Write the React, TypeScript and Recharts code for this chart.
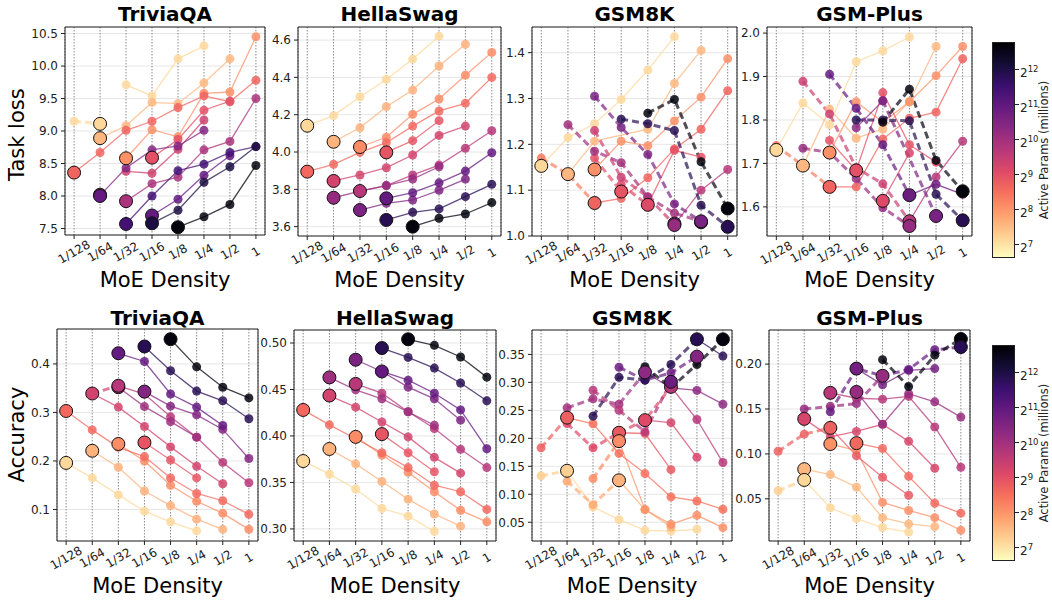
import React from "react";
import { ComposedChart, Line, Scatter, XAxis, YAxis, CartesianGrid, ReferenceArea } from "recharts";

const FONT = "'DejaVu Sans', sans-serif";
const n = null;

const densityLabels = ["1/128", "1/64", "1/32", "1/16", "1/8", "1/4", "1/2", "1"];
const colorbarTicks = [12, 11, 10, 9, 8, 7];

// t = position on the magma colormap (0 = black / most active params, 1 = pale)
// ---- Task loss: TriviaQA
const triviaLossSolid = [
  { t: 0.92, v: [n, n, 9.71, 9.54, 10.11, 10.31, n, n] },
  { t: 0.85, v: [n, 8.89, 9.08, 9.44, 9.42, 9.74, 10.11, n] },
  { t: 0.77, v: [n, n, 8.58, 9.02, 8.91, 9.58, 9.6, 10.45] },
  { t: 0.67, v: [8.36, 8.67, 9.01, 9.15, 9.36, 9.54, 9.45, 9.78] },
  { t: 0.62, v: [n, n, n, 8.59, 8.87, 9.32, 9.46, n] },
  { t: 0.56, v: [n, n, 8.38, 8.35, 8.72, 9.17, n, n] },
  { t: 0.47, v: [n, n, 7.92, 8.19, 8.29, 8.71, 8.84, 9.5] },
  { t: 0.38, v: [n, 8.01, 8.43, 8.71, 8.77, 9.01, n, n] },
  { t: 0.3, v: [n, n, n, 7.7, 7.95, 8.32, 8.62, n] },
  { t: 0.22, v: [n, n, 7.57, 8.0, 8.39, 8.49, 8.67, 8.76] },
  { t: 0.12, v: [n, n, n, 7.58, 7.78, 8.21, 8.45, 8.76] },
  { t: 0.02, v: [n, n, n, n, 7.52, 7.68, 7.87, 8.47] },
];
const triviaLossDashed = [{ t: 0.92, v: [9.15, 9.11, n, n, n, n, n, n] }];
const triviaLossBest = [
  { t: 0.92, x: 1, y: 9.11 }, { t: 0.85, x: 1, y: 8.89 }, { t: 0.77, x: 2, y: 8.58 },
  { t: 0.67, x: 0, y: 8.36 }, { t: 0.62, x: 3, y: 8.59 }, { t: 0.45, x: 1, y: 8.02 },
  { t: 0.3, x: 1, y: 8.0 }, { t: 0.47, x: 2, y: 7.92 }, { t: 0.3, x: 3, y: 7.7 },
  { t: 0.22, x: 2, y: 7.57 }, { t: 0.12, x: 3, y: 7.58 }, { t: 0.02, x: 4, y: 7.52 },
];

// ---- Task loss: HellaSwag
const hellaLossSolid = [
  { t: 0.92, v: [4.141, 4.195, 4.296, 4.389, 4.498, 4.621, n, n] },
  { t: 0.84, v: [n, 4.055, 4.13, 4.243, 4.332, 4.461, 4.577, n] },
  { t: 0.76, v: [n, n, 4.027, 4.079, 4.202, 4.284, 4.412, 4.534] },
  { t: 0.68, v: [3.895, 3.934, 3.998, 4.05, 4.139, 4.22, 4.261, 4.4] },
  { t: 0.63, v: [n, n, n, 3.998, 4.061, 4.168, n, n] },
  { t: 0.57, v: [n, 3.845, 3.877, 3.916, 3.984, 4.089, 4.139, n] },
  { t: 0.5, v: [n, n, 3.791, 3.82, 3.877, 3.93, 4.02, 4.114] },
  { t: 0.42, v: [n, 3.755, 3.791, 3.82, 3.855, 3.921, n, n] },
  { t: 0.36, v: [n, n, 3.689, 3.725, 3.743, 3.795, 3.855, n] },
  { t: 0.3, v: [n, n, n, 3.752, 3.782, 3.835, 3.898, 3.996] },
  { t: 0.15, v: [n, n, n, 3.636, 3.677, 3.695, 3.761, 3.827] },
  { t: 0.02, v: [n, n, n, n, 3.6, 3.645, 3.668, 3.729] },
];
const hellaLossDashed: { t: number; v: (number | null)[] }[] = [];
const hellaLossBest = [
  { t: 0.92, x: 0, y: 4.141 }, { t: 0.84, x: 1, y: 4.055 }, { t: 0.76, x: 2, y: 4.027 },
  { t: 0.68, x: 0, y: 3.895 }, { t: 0.63, x: 3, y: 3.998 }, { t: 0.57, x: 1, y: 3.845 },
  { t: 0.5, x: 2, y: 3.791 }, { t: 0.42, x: 1, y: 3.755 }, { t: 0.36, x: 2, y: 3.689 },
  { t: 0.3, x: 3, y: 3.752 }, { t: 0.15, x: 3, y: 3.636 }, { t: 0.02, x: 4, y: 3.6 },
];

// ---- Task loss: GSM8K
const gsmLossSolid = [
  { t: 0.92, v: [1.153, 1.215, 1.245, 1.298, 1.362, 1.435, n, n] },
  { t: 0.85, v: [n, 1.135, 1.207, n, 1.233, 1.333, 1.405, n] },
  { t: 0.77, v: [n, n, 1.145, 1.207, 1.197, 1.251, 1.303, 1.387] },
  { t: 0.67, v: [n, n, 1.072, 1.082, 1.127, 1.19, 1.233, 1.317] },
  { t: 0.62, v: [n, n, n, n, 1.068, 1.187, 1.172, n] },
  { t: 0.5, v: [n, n, n, n, n, 1.025, 1.1, 1.145] },
];
const gsmLossDashed = [
  { t: 0.72, v: [1.17, 1.135, 1.072, n, n, n, n, n] },
  { t: 0.62, v: [n, n, 1.17, 1.097, n, n, n, n] },
  { t: 0.6, v: [n, n, n, 1.112, 1.068, n, n, n] },
  { t: 0.55, v: [n, n, 1.23, 1.128, 1.085, 1.025, n, n] },
  { t: 0.45, v: [n, 1.243, 1.185, 1.16, 1.085, 1.05, 1.032, n] },
  { t: 0.35, v: [n, n, 1.305, 1.237, 1.178, 1.07, 1.032, n] },
  { t: 0.15, v: [n, n, n, 1.255, 1.245, 1.23, 1.067, 1.02] },
  { t: 0.02, v: [n, n, n, n, 1.268, 1.298, 1.162, 1.06] },
];
const gsmLossBest = [
  { t: 0.92, x: 0, y: 1.153 }, { t: 0.85, x: 1, y: 1.135 }, { t: 0.77, x: 2, y: 1.145 },
  { t: 0.67, x: 2, y: 1.072 }, { t: 0.63, x: 3, y: 1.097 }, { t: 0.6, x: 4, y: 1.068 },
  { t: 0.5, x: 5, y: 1.027 }, { t: 0.42, x: 5, y: 1.024 }, { t: 0.4, x: 6, y: 1.03 },
  { t: 0.35, x: 6, y: 1.032 }, { t: 0.02, x: 7, y: 1.06 }, { t: 0.15, x: 7, y: 1.02 },
];

// ---- Task loss: GSM-Plus
const plusLossSolid = [
  { t: 0.92, v: [1.731, 1.839, 1.789, 1.934, 1.959, 1.991, n, n] },
  { t: 0.85, v: [n, 1.695, 1.825, 1.758, 1.779, 1.842, 1.969, n] },
  { t: 0.77, v: [n, n, 1.725, 1.842, 1.795, 1.842, 1.902, 1.969] },
  { t: 0.67, v: [n, n, 1.646, 1.646, 1.756, 1.804, 1.818, 1.941] },
  { t: 0.62, v: [n, n, 1.753, 1.684, 1.863, 1.743, 1.703, n] },
  { t: 0.58, v: [n, n, n, n, 1.614, 1.724, n, n] },
  { t: 0.5, v: [n, n, n, n, n, 1.567, 1.669, 1.751] },
  { t: 0.4, v: [n, n, n, 1.782, 1.844, n, n, n] },
  { t: 0.32, v: [n, n, n, n, n, 1.627, 1.652, 1.629] },
];
const plusLossDashed = [
  { t: 0.72, v: [1.741, 1.695, 1.646, n, n, n, n, n] },
  { t: 0.55, v: [n, 1.889, 1.814, 1.69, 1.653, 1.567, n, n] },
  { t: 0.42, v: [n, 1.735, 1.725, 1.665, 1.598, 1.556, n, n] },
  { t: 0.3, v: [n, n, 1.905, 1.827, 1.743, 1.627, n, n] },
  { t: 0.36, v: [n, n, n, n, 1.844, n, 1.579, n] },
  { t: 0.15, v: [n, n, n, 1.8, 1.8, 1.798, 1.629, 1.569] },
  { t: 0.02, v: [n, n, n, n, 1.795, 1.871, 1.707, 1.636] },
];
const plusLossBest = [
  { t: 0.92, x: 0, y: 1.731 }, { t: 0.85, x: 1, y: 1.695 }, { t: 0.77, x: 2, y: 1.725 },
  { t: 0.67, x: 2, y: 1.646 }, { t: 0.62, x: 3, y: 1.684 }, { t: 0.6, x: 4, y: 1.614 },
  { t: 0.32, x: 5, y: 1.627 }, { t: 0.5, x: 5, y: 1.567 }, { t: 0.42, x: 5, y: 1.556 },
  { t: 0.35, x: 6, y: 1.579 }, { t: 0.02, x: 7, y: 1.636 }, { t: 0.15, x: 7, y: 1.569 },
];

// ---- Accuracy: TriviaQA
const triviaAccSolid = [
  { t: 0.92, v: [0.196, 0.165, 0.13, 0.0965, 0.0745, 0.056, n, n] },
  { t: 0.84, v: [n, 0.221, 0.187, 0.138, 0.108, 0.08, 0.059, n] },
  { t: 0.76, v: [n, n, 0.235, 0.2, 0.15, 0.117, 0.092, 0.059] },
  { t: 0.68, v: [0.303, 0.264, 0.228, 0.209, 0.165, 0.133, 0.118, 0.09] },
  { t: 0.63, v: [n, n, n, 0.238, 0.202, 0.165, n, n] },
  { t: 0.57, v: [n, 0.339, 0.311, 0.271, 0.229, 0.189, 0.153, n] },
  { t: 0.5, v: [n, n, 0.355, 0.338, 0.291, 0.249, 0.197, 0.155] },
  { t: 0.44, v: [n, n, 0.352, 0.312, 0.281, 0.249, n, n] },
  { t: 0.38, v: [n, n, n, 0.343, 0.313, 0.295, 0.265, 0.205] },
  { t: 0.3, v: [n, n, 0.422, 0.405, 0.338, 0.311, 0.273, n] },
  { t: 0.15, v: [n, n, n, 0.436, 0.386, 0.344, 0.324, 0.287] },
  { t: 0.02, v: [n, n, n, n, 0.451, 0.394, 0.352, 0.33] },
];
const triviaAccDashed = [{ t: 0.56, v: [n, 0.339, 0.355, n, n, n, n, n] }];
const triviaAccBest = [
  { t: 0.92, x: 0, y: 0.196 }, { t: 0.84, x: 1, y: 0.221 }, { t: 0.76, x: 2, y: 0.235 },
  { t: 0.68, x: 0, y: 0.303 }, { t: 0.63, x: 3, y: 0.238 }, { t: 0.57, x: 1, y: 0.339 },
  { t: 0.44, x: 2, y: 0.352 }, { t: 0.5, x: 2, y: 0.355 }, { t: 0.38, x: 3, y: 0.343 },
  { t: 0.3, x: 2, y: 0.422 }, { t: 0.15, x: 3, y: 0.436 }, { t: 0.02, x: 4, y: 0.451 },
];

// ---- Accuracy: HellaSwag
const hellaAccSolid = [
  { t: 0.92, v: [0.373, 0.359, 0.343, 0.322, 0.3137, 0.2975, n, n] },
  { t: 0.84, v: [n, 0.386, 0.37, 0.351, 0.332, 0.316, 0.303, n] },
  { t: 0.76, v: [n, n, 0.399, 0.3795, 0.361, 0.34, 0.32, 0.3076] },
  { t: 0.68, v: [0.428, 0.412, 0.397, 0.382, 0.366, 0.347, 0.34, 0.321] },
  { t: 0.63, v: [n, n, n, 0.402, 0.382, 0.3615, n, n] },
  { t: 0.57, v: [n, 0.4435, 0.431, 0.415, 0.399, 0.377, 0.36, n] },
  { t: 0.5, v: [n, n, 0.456, 0.446, 0.426, 0.408, 0.3856, 0.366] },
  { t: 0.44, v: [n, 0.463, 0.4496, 0.44, 0.426, 0.4115, n, n] },
  { t: 0.36, v: [n, n, 0.482, 0.4694, 0.4525, 0.44, 0.417, n] },
  { t: 0.3, v: [n, n, n, 0.4694, 0.46, 0.446, 0.428, 0.3863] },
  { t: 0.15, v: [n, n, n, 0.4946, 0.4845, 0.473, 0.457, 0.4378] },
  { t: 0.02, v: [n, n, n, n, 0.504, 0.4975, 0.485, 0.4633] },
];
const hellaAccDashed: { t: number; v: (number | null)[] }[] = [];
const hellaAccBest = [
  { t: 0.92, x: 0, y: 0.373 }, { t: 0.84, x: 1, y: 0.386 }, { t: 0.76, x: 2, y: 0.399 },
  { t: 0.68, x: 0, y: 0.428 }, { t: 0.63, x: 3, y: 0.402 }, { t: 0.57, x: 1, y: 0.4435 },
  { t: 0.5, x: 2, y: 0.456 }, { t: 0.44, x: 1, y: 0.463 }, { t: 0.36, x: 2, y: 0.482 },
  { t: 0.3, x: 3, y: 0.4694 }, { t: 0.15, x: 3, y: 0.4946 }, { t: 0.02, x: 4, y: 0.504 },
];

// ---- Accuracy: GSM8K
const gsmAccSolid = [
  { t: 0.92, v: [n, 0.142, 0.0773, 0.0547, 0.0356, 0.0344, 0.0374, n] },
  { t: 0.84, v: [n, n, n, 0.125, 0.0726, 0.0415, n, n] },
  { t: 0.77, v: [n, n, n, 0.195, 0.0726, 0.0463, 0.0624, 0.0403] },
  { t: 0.7, v: [n, 0.237, 0.226, 0.173, 0.137, 0.0953, 0.088, 0.0732] },
  { t: 0.64, v: [n, n, n, 0.21, 0.2086, 0.144, n, n] },
  { t: 0.58, v: [n, n, n, n, 0.2325, 0.228, 0.166, n] },
  { t: 0.5, v: [n, n, n, n, n, 0.292, 0.2336, 0.1567] },
  { t: 0.4, v: [n, n, n, n, 0.318, 0.2903, 0.2856, 0.261] },
  { t: 0.15, v: [n, n, n, n, n, n, 0.377, 0.347] },
];
const gsmAccDashed = [
  { t: 0.9, v: [0.133, 0.142, n, n, n, n, n, n] },
  { t: 0.82, v: [n, 0.1233, 0.0815, 0.125, n, n, n, n] },
  { t: 0.76, v: [n, n, 0.128, 0.195, n, n, n, n] },
  { t: 0.66, v: [0.183, 0.237, n, n, n, n, n, n] },
  { t: 0.6, v: [n, 0.2265, 0.183, 0.21, 0.2325, 0.292, n, n] },
  { t: 0.45, v: [n, 0.2545, 0.2706, 0.261, 0.318, n, n, n] },
  { t: 0.5, v: [n, n, 0.286, 0.25, 0.2116, 0.301, n, n] },
  { t: 0.32, v: [n, n, n, 0.327, 0.304, 0.317, 0.346, n] },
  { t: 0.15, v: [n, n, 0.2396, 0.309, 0.304, 0.332, 0.377, n] },
  { t: 0.02, v: [n, n, n, n, 0.328, 0.2903, 0.332, 0.377] },
];
const gsmAccBest = [
  { t: 0.66, x: 1, y: 0.237 }, { t: 0.9, x: 1, y: 0.142 }, { t: 0.64, x: 3, y: 0.21 },
  { t: 0.76, x: 3, y: 0.195 }, { t: 0.84, x: 3, y: 0.125 }, { t: 0.4, x: 4, y: 0.318 },
  { t: 0.6, x: 4, y: 0.2325 }, { t: 0.5, x: 5, y: 0.292 }, { t: 0.32, x: 5, y: 0.301 },
  { t: 0.15, x: 6, y: 0.377 }, { t: 0.38, x: 6, y: 0.346 }, { t: 0.02, x: 7, y: 0.377 },
];

// ---- Accuracy: GSM-Plus
const plusAccSolid = [
  { t: 0.92, v: [n, 0.071, 0.04, 0.028, 0.018, 0.013, n, n] },
  { t: 0.85, v: [n, 0.083, 0.077, 0.063, 0.029, 0.022, 0.019, n] },
  { t: 0.77, v: [n, n, 0.111, 0.104, 0.046, 0.037, 0.029, 0.015] },
  { t: 0.68, v: [n, n, n, 0.112, 0.106, 0.075, 0.045, 0.034] },
  { t: 0.64, v: [n, n, 0.129, 0.098, 0.074, 0.054, n, n] },
  { t: 0.58, v: [n, 0.139, 0.119, 0.125, 0.133, 0.114, 0.084, n] },
  { t: 0.5, v: [n, n, 0.168, 0.162, 0.161, 0.164, 0.13, 0.085] },
  { t: 0.42, v: [n, n, n, 0.169, 0.133, 0.167, 0.158, 0.141] },
  { t: 0.34, v: [n, n, n, 0.195, 0.177, 0.193, 0.195, n] },
];
const plusAccDashed = [
  { t: 0.9, v: [0.059, 0.071, n, n, n, n, n, n] },
  { t: 0.66, v: [0.103, 0.122, 0.129, n, n, n, n, n] },
  { t: 0.42, v: [n, 0.15, 0.153, 0.156, 0.187, n, n, n] },
  { t: 0.3, v: [n, n, 0.147, 0.195, 0.187, 0.194, 0.216, 0.219] },
  { t: 0.02, v: [n, n, n, n, 0.205, 0.175, 0.21, 0.228] },
];
const plusAccBest = [
  { t: 0.58, x: 1, y: 0.139 }, { t: 0.85, x: 1, y: 0.083 }, { t: 0.92, x: 1, y: 0.071 },
  { t: 0.5, x: 2, y: 0.168 }, { t: 0.66, x: 2, y: 0.129 }, { t: 0.77, x: 2, y: 0.111 },
  { t: 0.34, x: 3, y: 0.195 }, { t: 0.42, x: 3, y: 0.169 }, { t: 0.68, x: 3, y: 0.112 },
  { t: 0.42, x: 4, y: 0.187 }, { t: 0.02, x: 7, y: 0.228 }, { t: 0.15, x: 7, y: 0.219 },
];

const MAGMA = ["#000004", "#140e36", "#3b0f70", "#641a80", "#8c2981", "#b73779", "#de4968", "#f7705c", "#fe9f6d", "#fecf92", "#fcfdbf"];

function magma(t: number) {
  const s = Math.max(0, Math.min(1, t)) * (MAGMA.length - 1);
  const i = Math.min(Math.floor(s), MAGMA.length - 2);
  const f = s - i;
  const a = MAGMA[i], b = MAGMA[i + 1];
  const ch = (h: string, k: number) => parseInt(h.slice(1 + 2 * k, 3 + 2 * k), 16);
  const c = [0, 1, 2].map((k) => Math.round(ch(a, k) + (ch(b, k) - ch(a, k)) * f));
  return `rgb(${c[0]},${c[1]},${c[2]})`;
}

const panels = [
  { title: "TriviaQA", box: [65, 27, 200, 208], domain: [7.4, 10.6], ticks: [7.5, 8, 8.5, 9, 9.5, 10, 10.5], dec: 1, solid: triviaLossSolid, dashed: triviaLossDashed, best: triviaLossBest },
  { title: "HellaSwag", box: [298, 27, 203, 209], domain: [3.55, 4.67], ticks: [3.6, 3.8, 4.0, 4.2, 4.4, 4.6], dec: 1, solid: hellaLossSolid, dashed: hellaLossDashed, best: hellaLossBest },
  { title: "GSM8K", box: [532, 27, 205, 209], domain: [1.0, 1.456], ticks: [1.0, 1.1, 1.2, 1.3, 1.4], dec: 1, solid: gsmLossSolid, dashed: gsmLossDashed, best: gsmLossBest },
  { title: "GSM-Plus", box: [767, 27, 205, 209], domain: [1.533, 2.014], ticks: [1.6, 1.7, 1.8, 1.9, 2.0], dec: 1, solid: plusLossSolid, dashed: plusLossDashed, best: plusLossBest },
  { title: "TriviaQA", box: [57, 329, 201, 212], domain: [0.035, 0.472], ticks: [0.1, 0.2, 0.3, 0.4], dec: 1, solid: triviaAccSolid, dashed: triviaAccDashed, best: triviaAccBest },
  { title: "HellaSwag", box: [294, 330, 202, 211], domain: [0.287, 0.514], ticks: [0.3, 0.35, 0.4, 0.45, 0.5], dec: 2, solid: hellaAccSolid, dashed: hellaAccDashed, best: hellaAccBest },
  { title: "GSM8K", box: [532, 330, 200, 211], domain: [0.0165, 0.3936], ticks: [0.05, 0.1, 0.15, 0.2, 0.25, 0.3, 0.35], dec: 2, solid: gsmAccSolid, dashed: gsmAccDashed, best: gsmAccBest },
  { title: "GSM-Plus", box: [769, 330, 201, 211], domain: [0.003, 0.238], ticks: [0.05, 0.1, 0.15, 0.2], dec: 2, solid: plusAccSolid, dashed: plusAccDashed, best: plusAccBest },
];

const XDOM = [-0.35, 7.35];

function toPoints(v: (number | null)[]) {
  const out: { x: number; y: number }[] = [];
  v.forEach((y, i) => {
    if (y != null) out.push({ x: i, y });
  });
  return out;
}

function XTick(props: any) {
  const { x, y, payload } = props;
  return (
    <g transform={`translate(${x},${y + 11})`}>
      <text textAnchor="middle" dominantBaseline="central" transform="rotate(-30)" fontSize={12} fill="#222" fontFamily={FONT}>
        {densityLabels[payload.value]}
      </text>
    </g>
  );
}

function BigDot(props: any) {
  const { cx, cy, payload } = props;
  if (cx == null || cy == null) return null;
  return <circle cx={cx} cy={cy} r={6.5} fill={payload.c} stroke="#111" strokeWidth={1} />;
}

function Panel({ cfg }: { cfg: any }) {
  const [left, top, w, h] = cfg.box;
  const YW = 44, T = 4, R = 4, XH = 40;
  const bigs = cfg.best.map((b: any) => ({ x: b.x, y: b.y, c: magma(b.t) }));
  return (
    <div style={{ position: "absolute", left: left - YW, top: top - T }}>
      <ComposedChart width={w + YW + R} height={h + T + XH} margin={{ top: T, right: R, bottom: 0, left: 0 }}>
        <CartesianGrid horizontal vertical={false} stroke="#e6e6e6" />
        <CartesianGrid horizontal={false} vertical stroke="#8a8a8a" strokeDasharray="1.5 1.5" />
        <XAxis type="number" dataKey="x" domain={XDOM} ticks={[0, 1, 2, 3, 4, 5, 6, 7]} interval={0} height={XH}
          tick={<XTick />} tickSize={4} tickLine={{ stroke: "#222" }} axisLine={false} allowDataOverflow />
        <YAxis type="number" dataKey="y" domain={cfg.domain} ticks={cfg.ticks} interval={0} width={YW}
          tickFormatter={(v: number) => v.toFixed(cfg.dec)} tickSize={4} tickMargin={3}
          tick={{ fontSize: 12, fill: "#222", fontFamily: FONT }} tickLine={{ stroke: "#222" }} axisLine={false} allowDataOverflow />
        <ReferenceArea x1={XDOM[0]} x2={XDOM[1]} y1={cfg.domain[0]} y2={cfg.domain[1]} fill="none" fillOpacity={0} stroke="#222" strokeWidth={1} />
        {cfg.solid.map((s: any, i: number) => {
          const c = magma(s.t);
          return (
            <Line key={`s${i}`} data={toPoints(s.v)} dataKey="y" type="linear" stroke={c} strokeWidth={1.3} strokeOpacity={0.75}
              dot={{ r: 4.5, fill: c, fillOpacity: 0.85, stroke: "none" }} activeDot={false} isAnimationActive={false} />
          );
        })}
        {cfg.dashed.map((s: any, i: number) => {
          const c = magma(s.t);
          return (
            <Line key={`d${i}`} data={toPoints(s.v)} dataKey="y" type="linear" stroke={c} strokeWidth={3} strokeOpacity={0.7}
              strokeDasharray="7 4" dot={{ r: 4.5, fill: c, fillOpacity: 0.85, stroke: "none", strokeDasharray: "" }}
              activeDot={false} isAnimationActive={false} />
          );
        })}
        <Scatter data={bigs} dataKey="y" shape={<BigDot />} isAnimationActive={false} />
      </ComposedChart>
    </div>
  );
}

function Colorbar({ top }: { top: number }) {
  const left = 992, width = 23, height = 216;
  return (
    <>
      <div style={{ position: "absolute", left, top, width, height, boxSizing: "border-box", border: "1px solid #222",
        background: `linear-gradient(to bottom, ${MAGMA.join(", ")})` }} />
      {colorbarTicks.map((k) => {
        const y = top + 27 + 35 * (12 - k);
        return (
          <React.Fragment key={k}>
            <div style={{ position: "absolute", left: left + width, top: y, width: 4, height: 1, background: "#222" }} />
            <div style={{ position: "absolute", left: left + width + 5, top: y - 8, fontFamily: FONT, fontSize: 12, color: "#222", lineHeight: "16px", whiteSpace: "nowrap" }}>
              2<sup style={{ fontSize: 8.5, verticalAlign: "5px" }}>{k}</sup>
            </div>
          </React.Fragment>
        );
      })}
      <div style={{ position: "absolute", left: 1044 - 80, top: top + 108 - 6, width: 160, height: 12, textAlign: "center", transform: "rotate(-90deg)",
        fontFamily: FONT, fontSize: 11.5, color: "#222", lineHeight: "12px", whiteSpace: "nowrap" }}>
        Active Params (millions)
      </div>
    </>
  );
}

function Text({ x, y, size, bold, children, rotate }: any) {
  return (
    <div style={{ position: "absolute", left: x - 150, top: y - size * 0.6, width: 300, textAlign: "center", fontFamily: FONT,
      fontSize: size, fontWeight: bold ? "bold" : "normal", color: "#000", lineHeight: `${size * 1.2}px`, whiteSpace: "nowrap",
      transform: rotate ? "rotate(-90deg)" : undefined }}>
      {children}
    </div>
  );
}

export default function App() {
  return (
    <div style={{ position: "absolute", left: 0, top: 0, width: 1052, height: 602, background: "#fff", overflow: "hidden" }}>
      {panels.map((p, i) => {
        const cx = p.box[0] + p.box[2] / 2;
        const row = i < 4 ? 0 : 1;
        return (
          <React.Fragment key={i}>
            <Panel cfg={p} />
            <Text x={cx} y={row === 0 ? 14 : 318} size={20} bold>{p.title}</Text>
            <Text x={cx} y={row === 0 ? 281 : 587} size={21}>MoE Density</Text>
          </React.Fragment>
        );
      })}
      <Text x={18} y={135} size={21} rotate>Task loss</Text>
      <Text x={18} y={435} size={21} rotate>Accuracy</Text>
      <Colorbar top={42} />
      <Colorbar top={345} />
    </div>
  );
}
